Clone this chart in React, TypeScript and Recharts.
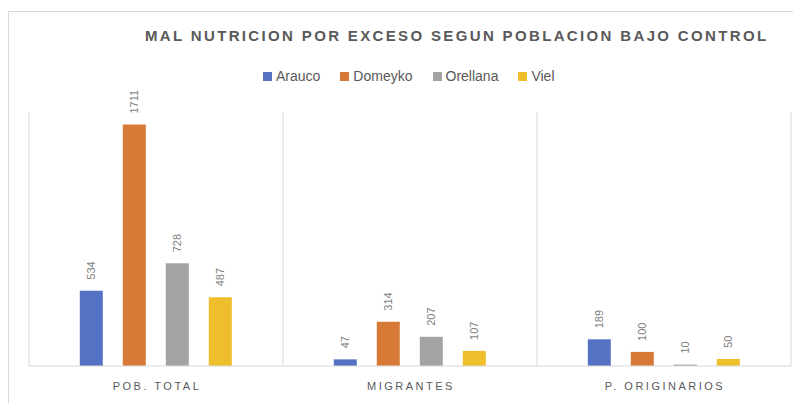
import React from "react";
import {
  BarChart,
  Bar,
  XAxis,
  YAxis,
  CartesianGrid,
  Legend,
  LabelList,
} from "recharts";

const categories = ["POB. TOTAL", "MIGRANTES", "P. ORIGINARIOS"];
const arauco = [534, 47, 189];
const domeyko = [1711, 314, 100];
const orellana = [728, 207, 10];
const viel = [487, 107, 50];

const series = [
  { key: "Arauco", values: arauco, color: "#5571C4" },
  { key: "Domeyko", values: domeyko, color: "#D77A37" },
  { key: "Orellana", values: orellana, color: "#A3A3A3" },
  { key: "Viel", values: viel, color: "#EEBE2C" },
];

const data = categories.map((name, i) => {
  const row: Record<string, string | number> = { name };
  series.forEach((s) => {
    row[s.key] = s.values[i];
  });
  return row;
});

const FONT = "'Liberation Sans', Arial, sans-serif";

function VerticalLabel(props: any) {
  const { x, y, width, value } = props;
  const cx = x + width / 2;
  const ty = y - 11;
  return (
    <text
      x={cx}
      y={ty}
      transform={`rotate(-90 ${cx} ${ty})`}
      textAnchor="start"
      dominantBaseline="central"
      fontSize={11}
      fontFamily={FONT}
      fill="#7f7f7f"
    >
      {value}
    </text>
  );
}

function CategoryTick(props: any) {
  const { x, y, payload } = props;
  return (
    <text
      x={x + 1}
      y={y + 16}
      textAnchor="middle"
      fontSize={11}
      fontFamily={FONT}
      letterSpacing={2.5}
      fill="#595959"
    >
      {payload.value}
    </text>
  );
}

function LegendContent() {
  return (
    <div style={{ display: "flex", gap: 20, fontFamily: FONT, fontSize: 14, color: "#595959" }}>
      {series.map((s) => (
        <div key={s.key} style={{ display: "flex", alignItems: "center" }}>
          <span
            style={{ width: 9, height: 9, background: s.color, marginRight: 4, display: "inline-block" }}
          />
          {s.key}
        </div>
      ))}
    </div>
  );
}

export default function App() {
  return (
    <div style={{ position: "relative", width: 793, height: 395, overflow: "hidden", background: "#fff" }}>
      <div
        style={{
          position: "absolute",
          left: 0,
          top: 3,
          width: 900,
          height: 500,
          border: "1px solid #d9d9d9",
        }}
      />
      <div
        style={{
          position: "absolute",
          left: 137,
          top: 19,
          fontFamily: FONT,
          fontWeight: "bold",
          fontSize: 15,
          letterSpacing: 2.35,
          color: "#595959",
          whiteSpace: "nowrap",
        }}
      >
        MAL NUTRICION POR EXCESO SEGUN POBLACION BAJO CONTROL
      </div>
      <BarChart
        width={793}
        height={395}
        data={data}
        margin={{ top: 104, right: 10, bottom: 7, left: 21 }}
        barCategoryGap="20%"
        barGap={20}
      >
        <CartesianGrid
          horizontal={false}
          stroke="#d9d9d9"
          verticalCoordinatesGenerator={({ offset }: any) => [
            offset.left,
            offset.left + offset.width / 3,
            offset.left + (2 * offset.width) / 3,
            offset.left + offset.width,
          ]}
        />
        <XAxis
          dataKey="name"
          axisLine={{ stroke: "#d9d9d9" }}
          tickLine={false}
          tick={<CategoryTick />}
          interval={0}
        />
        <YAxis hide domain={[0, 1800]} />
        <Legend
          verticalAlign="middle"
          align="center"
          content={<LegendContent />}
          wrapperStyle={{ top: 60, left: 255, width: "auto" }}
        />
        {series.map((s) => (
          <Bar key={s.key} dataKey={s.key} fill={s.color} isAnimationActive={false}>
            <LabelList dataKey={s.key} content={<VerticalLabel />} />
          </Bar>
        ))}
      </BarChart>
    </div>
  );
}
